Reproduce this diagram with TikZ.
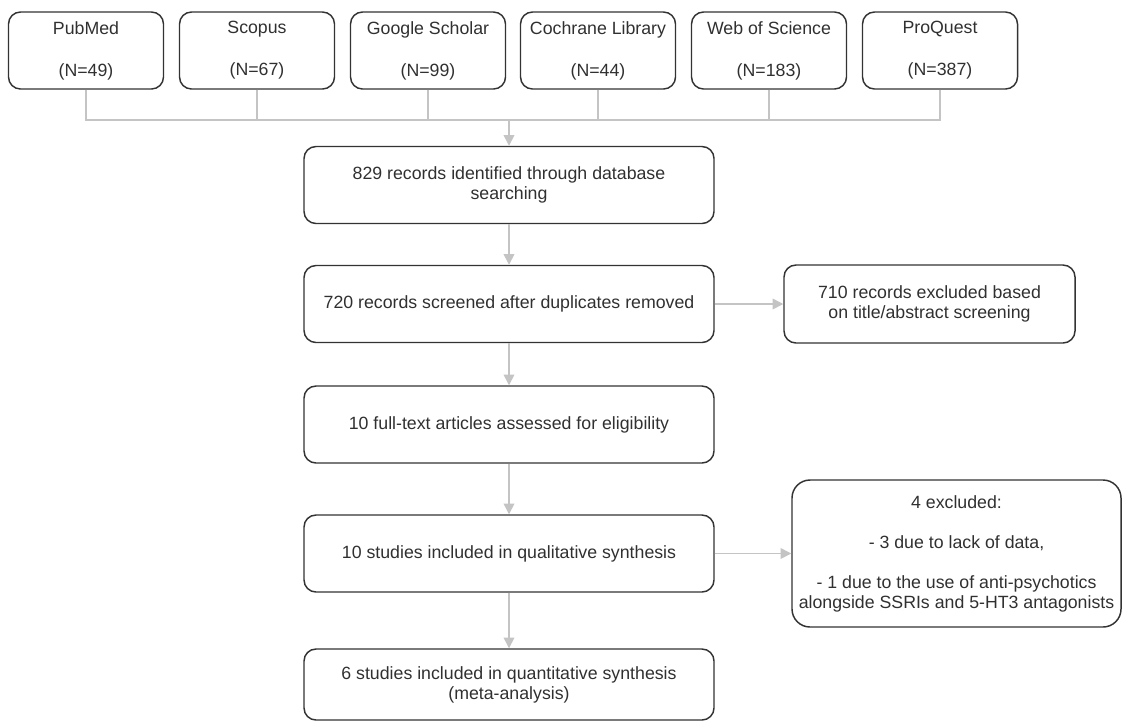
\documentclass[tikz,border=0pt]{standalone}
\usepackage{fontspec}
\setmainfont{Liberation Sans}
\usetikzlibrary{arrows.meta}
\definecolor{boxline}{HTML}{333333}
\definecolor{linkgray}{HTML}{C4C4C4}
\definecolor{txtgray}{HTML}{303030}
\tikzset{
  dbbox/.style={draw=boxline, line width=1.1pt, rounded corners=9pt,
    minimum width=116.25pt, minimum height=57.75pt, align=center,
    text=txtgray, font=\fontsize{13.3}{15}\selectfont},
  flowbox/.style={dbbox, minimum width=307.5pt},
  link/.style={draw=linkgray, line width=1.1pt},
  arr/.style={link, -{Triangle[width=8pt,length=8pt,fill=linkgray]}},
}

\begin{document}
\begin{tikzpicture}[x=0.75pt,y=-0.75pt]
    \useasboundingbox (0,0) rectangle (1123,722);
    % databases
    \node[dbbox] (pubmed) at (86,50.5) {PubMed\\[16.5pt](N=49)};
    \node[dbbox] (scopus) at (257,50.5) {Scopus\\[16.5pt](N=67)};
    \node[dbbox] (scholar) at (428,50.5) {Google Scholar\\[16.5pt](N=99)};
    \node[dbbox] (cochrane) at (598,50.5) {Cochrane Library\\[16.5pt](N=44)};
    \node[dbbox] (wos) at (769,50.5) {Web of Science\\[16.5pt](N=183)};
    \node[dbbox] (proquest) at (940,50.5) {ProQuest\\[16.5pt](N=387)};
    \coordinate (J) at (509,120);
    % main flow
    \node[flowbox] (ident) at (509,185) {829 records identified through database\\searching};
    \node[flowbox] (screen) at (509,304) {720 records screened after duplicates removed};
    \node[flowbox] (full) at (509,424.5) {10 full-text articles assessed for eligibility};
    \node[flowbox] (qual) at (509,553.5) {10 studies included in qualitative synthesis};
    \node[flowbox, minimum height=53.25pt] (quant) at (509,684.5) {6 studies included in quantitative synthesis\\(meta-analysis)};
    % exclusions
    \node[dbbox, minimum width=218.25pt, minimum height=58.5pt] (abstr) at (929.5,304) {710 records excluded based\\on title/abstract screening};
    \node[dbbox, minimum width=246.75pt, minimum height=110.25pt, rounded corners=13.5pt, inner sep=2pt] (excl) at (956.5,553.5) {4 excluded:\\[15pt]- 3 due to lack of data,\\[15pt]- 1 due to the use of anti-psychotics\\alongside SSRIs and 5-HT3 antagonists};
    % connectors
    \draw[link] (pubmed.south) |- (J);
    \draw[link] (scopus.south) |- (J);
    \draw[link] (scholar.south) |- (J);
    \draw[link] (cochrane.south) |- (J);
    \draw[link] (wos.south) |- (J);
    \draw[link] (proquest.south) |- (J);
    \draw[arr] (J) -- (ident);
    \draw[arr] (ident) -- (screen);
    \draw[arr] (screen) -- (full);
    \draw[arr] (full) -- (qual);
    \draw[arr] (qual) -- (quant);
    \draw[arr] (screen) -- (abstr);
    \draw[arr] (qual) -- (excl);
\end{tikzpicture}
\end{document}
